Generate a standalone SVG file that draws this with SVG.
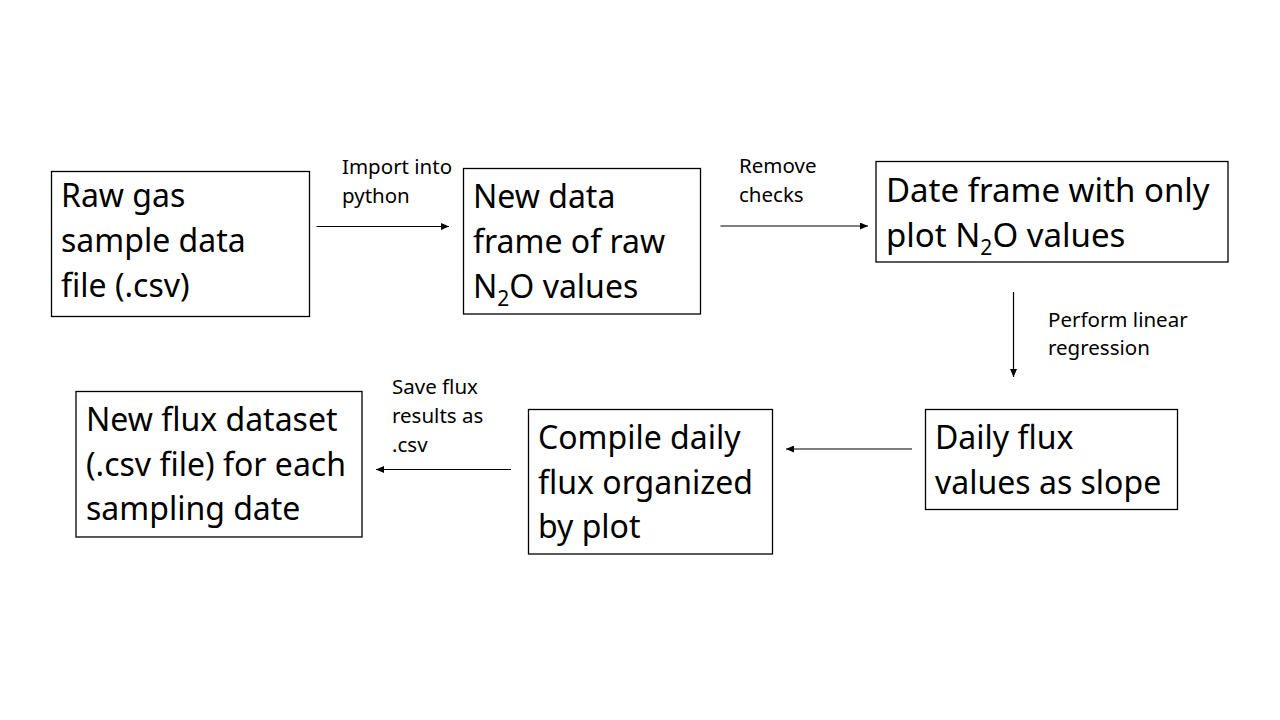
<svg xmlns="http://www.w3.org/2000/svg" width="1280" height="720" viewBox="0 0 1280 720">
  <style>
    .box { fill: #ffffff; stroke: #000000; stroke-width: 1.3; }
    .t { font-family: "Noto Sans", "Open Sans", sans-serif; font-size: 32px; fill: #000000; }
    .t3 { font-size: 33px; }
    .lbl { font-family: "Noto Sans", "Open Sans", sans-serif; font-size: 20.5px; fill: #000000; }
    .sub { font-size: 21px; }
    .conn { stroke: #000000; stroke-width: 1.2; fill: none; marker-end: url(#arr); }
  </style>
  <defs>
    <marker id="arr" markerUnits="userSpaceOnUse" markerWidth="8" markerHeight="7" refX="8" refY="3.5" orient="auto">
      <path d="M0,0 L8,3.5 L0,7 z" fill="#000000"/>
    </marker>
  </defs>
  <rect x="0" y="0" width="1280" height="720" fill="#ffffff"/>

  <g id="node-raw">
    <rect class="box" x="51.5" y="171.5" width="258" height="145"/>
    <text class="t" x="61" y="207">Raw gas</text>
    <text class="t" x="61" y="252">sample data</text>
    <text class="t" x="61" y="297">file (.csv)</text>
  </g>

  <g id="node-newframe">
    <rect class="box" x="463.5" y="168.5" width="237" height="145.5"/>
    <text class="t" x="473" y="207.5">New data</text>
    <text class="t" x="473" y="252.5">frame of raw</text>
    <text class="t" x="473" y="297.5">N<tspan class="sub" dy="8">2</tspan><tspan dy="-8">O values</tspan></text>
  </g>

  <g id="node-plotframe">
    <rect class="box" x="876" y="161.5" width="352" height="100.5"/>
    <text class="t t3" x="886" y="201.5">Date frame with only</text>
    <text class="t t3" x="886" y="246.5">plot N<tspan class="sub" dy="8">2</tspan><tspan dy="-8">O values</tspan></text>
  </g>

  <g id="node-slope">
    <rect class="box" x="925.5" y="409.5" width="252" height="100"/>
    <text class="t" x="935" y="448.5">Daily flux</text>
    <text class="t" x="935" y="493.5">values as slope</text>
  </g>

  <g id="node-compile">
    <rect class="box" x="528.5" y="409.5" width="244" height="144.5"/>
    <text class="t" x="538" y="448.5">Compile daily</text>
    <text class="t" x="538" y="493.5">flux organized</text>
    <text class="t" x="538" y="538">by plot</text>
  </g>

  <g id="node-dataset">
    <rect class="box" x="76" y="391.5" width="286" height="145.5"/>
    <text class="t" x="86" y="430.5">New flux dataset</text>
    <text class="t" x="86" y="475.5">(.csv file) for each</text>
    <text class="t" x="86" y="520">sampling date</text>
  </g>

  <g id="connectors">
    <line class="conn" x1="316.5" y1="226.5" x2="449" y2="226.5"/>
    <line class="conn" x1="720.5" y1="226" x2="868" y2="226"/>
    <line class="conn" x1="1013.5" y1="292" x2="1013.5" y2="377"/>
    <line class="conn" x1="912" y1="449" x2="786" y2="449"/>
    <line class="conn" x1="511" y1="469.5" x2="376" y2="469.5"/>
  </g>

  <g id="labels">
    <text class="lbl" x="342" y="174">Import into</text>
    <text class="lbl" x="342" y="203">python</text>
    <text class="lbl" x="739" y="173">Remove</text>
    <text class="lbl" x="739" y="202">checks</text>
    <text class="lbl" x="1048" y="327">Perform linear</text>
    <text class="lbl" x="1048" y="355">regression</text>
    <text class="lbl" x="392" y="394">Save flux</text>
    <text class="lbl" x="392" y="423">results as</text>
    <text class="lbl" x="392" y="452">.csv</text>
  </g>
</svg>
